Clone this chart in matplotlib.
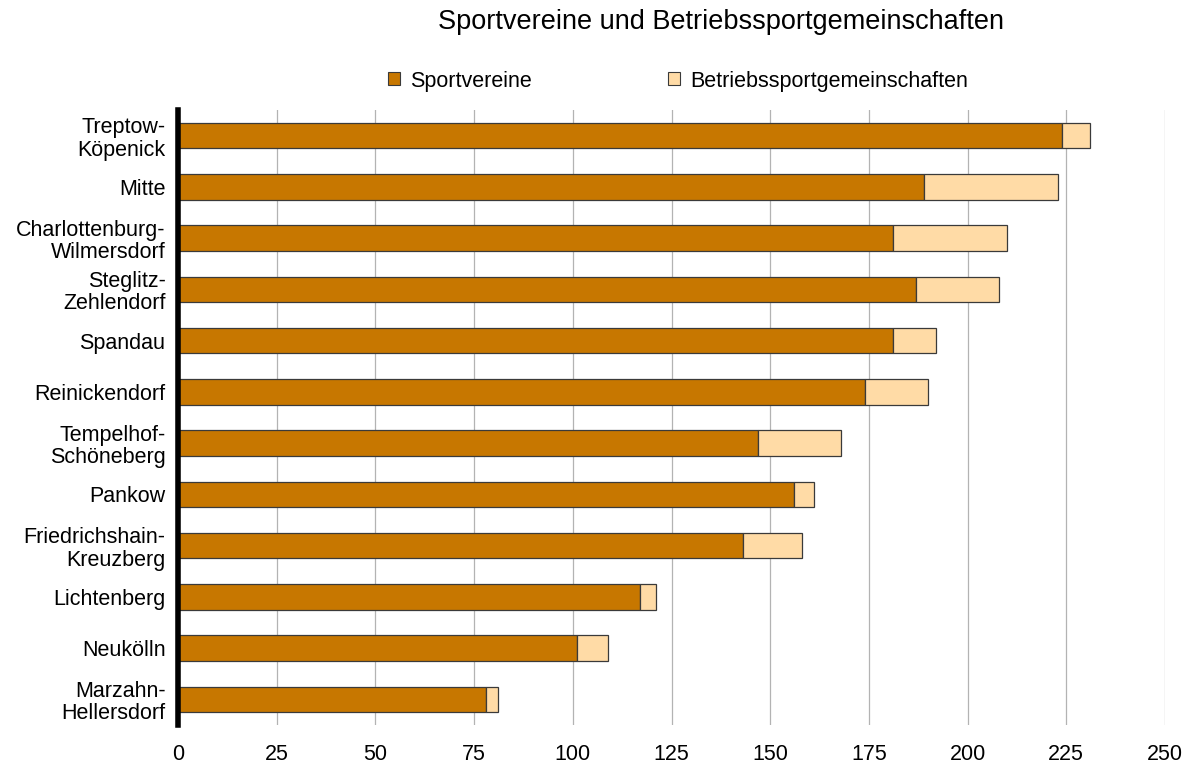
import matplotlib
matplotlib.use("Agg")
import matplotlib.pyplot as plt
from matplotlib.patches import Patch

plt.rcParams['font.family'] = ['Liberation Sans', 'DejaVu Sans']

bezirke = ["Treptow-\nKöpenick", "Mitte", "Charlottenburg-\nWilmersdorf", "Steglitz-\nZehlendorf",
           "Spandau", "Reinickendorf", "Tempelhof-\nSchöneberg", "Pankow",
           "Friedrichshain-\nKreuzberg", "Lichtenberg", "Neukölln", "Marzahn-\nHellersdorf"]
sportvereine = [224, 189, 181, 187, 181, 174, 147, 156, 143, 117, 101, 78]
betriebssport = [7, 34, 29, 21, 11, 16, 21, 5, 15, 4, 8, 3]
xticks = [0, 25, 50, 75, 100, 125, 150, 175, 200, 225, 250]

c_dark = "#C77700"
c_light = "#FFDBA6"
edge = "#3a3a3a"

fig = plt.figure(figsize=(11.92, 7.65), dpi=100)
ax = fig.add_axes([178/1192, 1-725/765, (1165-178)/1192, (725-110)/765])

y = list(range(len(bezirke)))
ax.barh(y, sportvereine, height=0.5, color=c_dark, edgecolor=edge, linewidth=0.9, zorder=3)
ax.barh(y, betriebssport, left=sportvereine, height=0.5, color=c_light, edgecolor=edge,
        linewidth=0.9, zorder=3)

ax.set_ylim(len(bezirke)-0.5, -0.5)
ax.set_xlim(0, 250)
ax.set_xticks(xticks)
ax.set_xticklabels([str(v) for v in xticks], fontsize=15.5)
ax.set_yticks(y)
ax.set_yticklabels(bezirke, fontsize=15.5, linespacing=1.1)
ax.tick_params(axis='both', length=0)
ax.tick_params(axis='x', pad=14)
ax.tick_params(axis='y', pad=9)
ax.xaxis.grid(True, color="#b3b3b3", linewidth=0.9, zorder=0)
ax.set_axisbelow(True)
for s in ['top', 'right', 'bottom']:
    ax.spines[s].set_visible(False)
ax.spines['left'].set_linewidth(4)
ax.spines['left'].set_color('black')
ax.spines['left'].set_zorder(5)

fig.text(721/1192, 1-22/765, "Sportvereine und Betriebssportgemeinschaften", ha='center', va='center',
         fontsize=19.5)

handles = [Patch(facecolor=c_dark, edgecolor=edge, linewidth=0.8, label="Sportvereine"),
           Patch(facecolor=c_light, edgecolor=edge, linewidth=0.8, label="Betriebssportgemeinschaften")]
fig.legend(handles=handles, loc='center', bbox_to_anchor=(678/1192, 1-81/765), ncol=2,
           frameon=False, fontsize=15.5, handlelength=0.55, handleheight=0.55, handletextpad=0.5,
           columnspacing=6.3)

fig.savefig("out.png", dpi=100)
